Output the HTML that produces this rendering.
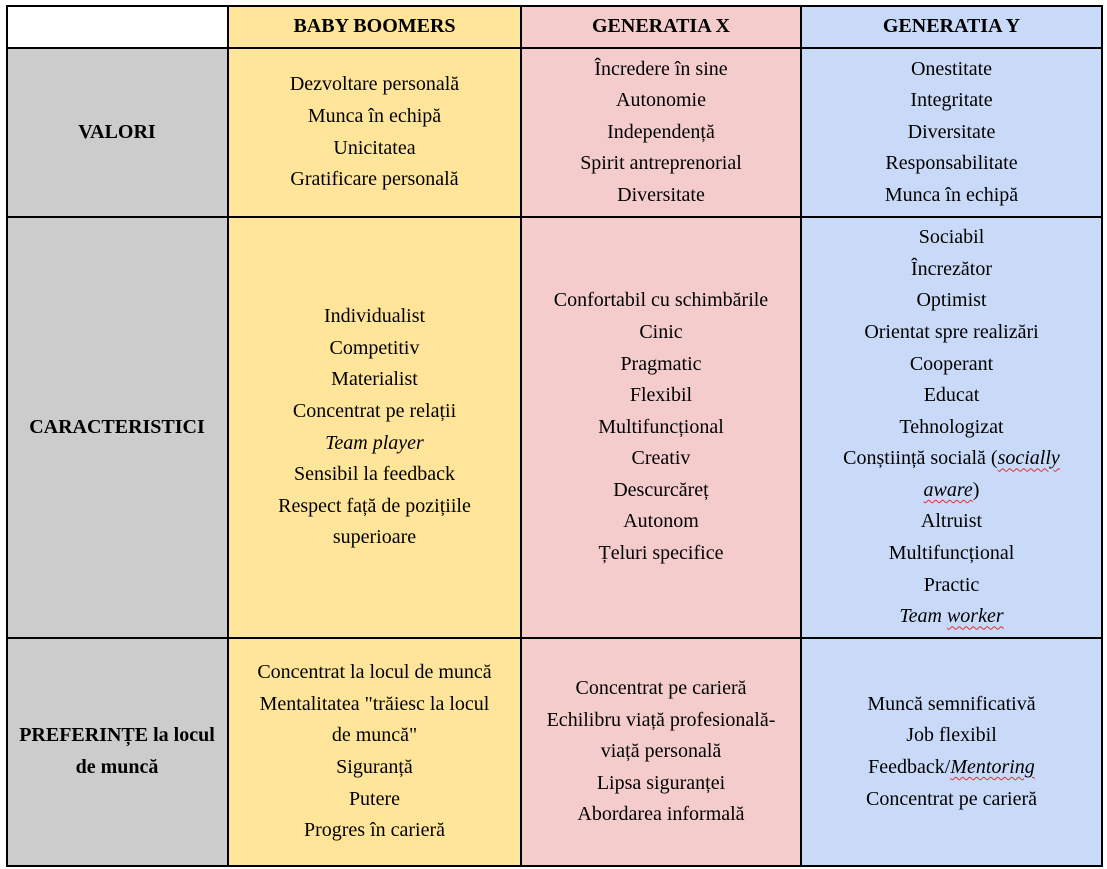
<!DOCTYPE html>
<html><head><meta charset="utf-8"><style>
body{margin:0;width:1107px;height:869px;background:#fff;position:relative;font-family:"Liberation Serif",serif;font-size:20px;color:#000;overflow:hidden}
.c{position:absolute;display:flex;align-items:center;justify-content:center;text-align:center;line-height:31.6px;white-space:nowrap;box-sizing:border-box}
.c>div{text-align:center}
.h{font-weight:bold}
.y{background:#FFE599}.p{background:#F4CCCC}.b{background:#C9DAF8}.g{background:#CCCCCC}
.l{position:absolute;background:#000}
u{text-decoration:underline wavy #e03030;text-decoration-thickness:1px;text-underline-offset:3px}
</style></head><body>
<div class="c" style="left:6px;top:5px;width:222px;height:43px"></div>
<div class="c y h" style="left:228px;top:5px;width:293px;height:43px"><div>BABY BOOMERS</div></div>
<div class="c p h" style="left:521px;top:5px;width:280px;height:43px"><div>GENERATIA X</div></div>
<div class="c b h" style="left:801px;top:5px;width:301px;height:43px"><div>GENERATIA Y</div></div>

<div class="c g h" style="left:6px;top:48px;width:222px;height:169px"><div>VALORI</div></div>
<div class="c y" style="left:228px;top:48px;width:293px;height:169px"><div>Dezvoltare personală<br>Munca în echipă<br>Unicitatea<br>Gratificare personală</div></div>
<div class="c p" style="left:521px;top:48px;width:280px;height:169px"><div>Încredere în sine<br>Autonomie<br>Independență<br>Spirit antreprenorial<br>Diversitate</div></div>
<div class="c b" style="left:801px;top:48px;width:301px;height:169px"><div>Onestitate<br>Integritate<br>Diversitate<br>Responsabilitate<br>Munca în echipă</div></div>

<div class="c g h" style="left:6px;top:217px;width:222px;height:421px"><div>CARACTERISTICI</div></div>
<div class="c y" style="left:228px;top:217px;width:293px;height:421px"><div>Individualist<br>Competitiv<br>Materialist<br>Concentrat pe relații<br><i>Team player</i><br>Sensibil la feedback<br>Respect față de pozițiile<br>superioare</div></div>
<div class="c p" style="left:521px;top:217px;width:280px;height:421px"><div>Confortabil cu schimbările<br>Cinic<br>Pragmatic<br>Flexibil<br>Multifuncțional<br>Creativ<br>Descurcăreț<br>Autonom<br>Țeluri specifice</div></div>
<div class="c b" style="left:801px;top:217px;width:301px;height:421px"><div>Sociabil<br>Încrezător<br>Optimist<br>Orientat spre realizări<br>Cooperant<br>Educat<br>Tehnologizat<br>Conștiință socială (<i><u>socially</u></i><br><i><u>aware</u></i>)<br>Altruist<br>Multifuncțional<br>Practic<br><i>Team <u>worker</u></i></div></div>

<div class="c g h" style="left:6px;top:638px;width:222px;height:228px"><div>PREFERINȚE la locul<br>de muncă</div></div>
<div class="c y" style="left:228px;top:638px;width:293px;height:228px"><div>Concentrat la locul de muncă<br>Mentalitatea "trăiesc la locul<br>de muncă"<br>Siguranță<br>Putere<br>Progres în carieră</div></div>
<div class="c p" style="left:521px;top:638px;width:280px;height:228px"><div>Concentrat pe carieră<br>Echilibru viață profesională-<br>viață personală<br>Lipsa siguranței<br>Abordarea informală</div></div>
<div class="c b" style="left:801px;top:638px;width:301px;height:228px"><div>Muncă semnificativă<br>Job flexibil<br>Feedback/<i><u>Mentoring</u></i><br>Concentrat pe carieră</div></div>

<div class="l" style="left:6px;top:5px;width:1097px;height:2px"></div>
<div class="l" style="left:6px;top:47px;width:1097px;height:2px"></div>
<div class="l" style="left:6px;top:216px;width:1097px;height:2px"></div>
<div class="l" style="left:6px;top:637px;width:1097px;height:2px"></div>
<div class="l" style="left:6px;top:865px;width:1097px;height:2px"></div>
<div class="l" style="left:6px;top:5px;width:2px;height:862px"></div>
<div class="l" style="left:227px;top:5px;width:2px;height:862px"></div>
<div class="l" style="left:520px;top:5px;width:2px;height:862px"></div>
<div class="l" style="left:800px;top:5px;width:2px;height:862px"></div>
<div class="l" style="left:1101px;top:5px;width:2px;height:862px"></div>
</body></html>
